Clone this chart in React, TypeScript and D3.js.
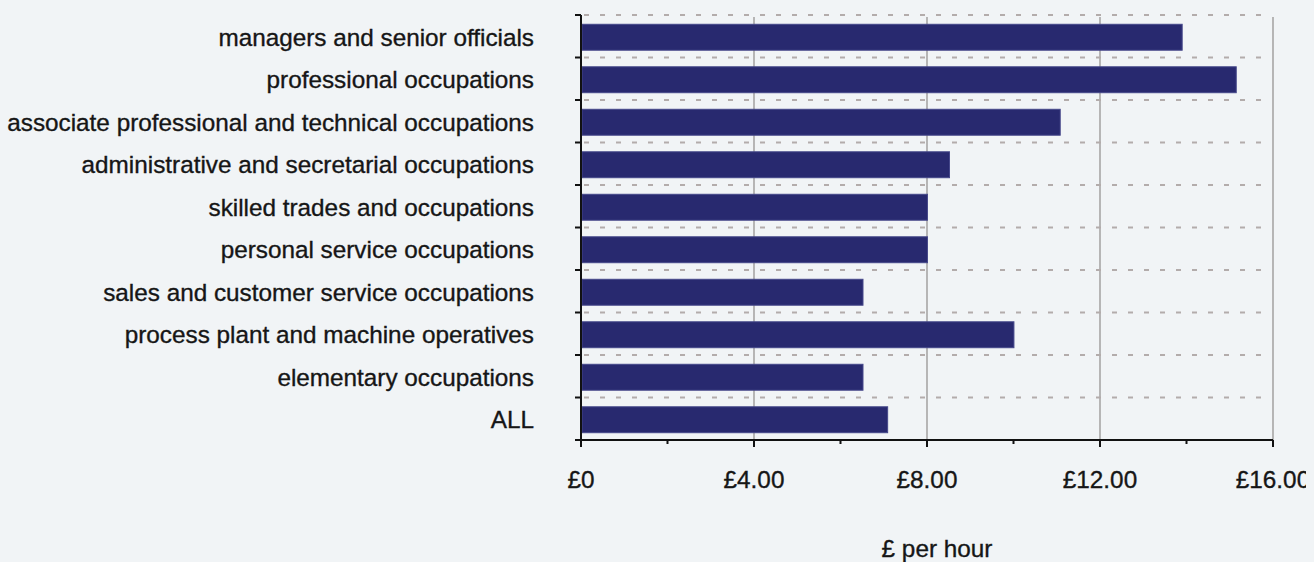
import React from "react";
import * as d3 from "d3";

const categories = [
  "managers and senior officials",
  "professional occupations",
  "associate professional and technical occupations",
  "administrative and secretarial occupations",
  "skilled trades and occupations",
  "personal service occupations",
  "sales and customer service occupations",
  "process plant and machine operatives",
  "elementary occupations",
  "ALL",
];
const values = [13.9, 15.15, 11.08, 8.52, 8.01, 8.01, 6.52, 10.01, 6.52, 7.09];
const majorTicks = [0, 4, 8, 12, 16];
const tickLabels = ["£0", "£4.00", "£8.00", "£12.00", "£16.00"];
const minorTicks = [2, 6, 10, 14];
const axisTitle = "£ per hour";

const W = 1314;
const H = 562;
const FONT = "'Liberation Sans', Arial, Helvetica, sans-serif";

export default function App() {
  const x = d3.scaleLinear().domain([0, 16]).range([581, 1273]);
  const y = d3.scaleBand<string>().domain(categories).range([15, 440]).paddingInner(0).paddingOuter(0);
  const bw = y.bandwidth();
  const barH = bw * 0.61;
  const [x0, x1] = x.range();
  const [y0, y1] = y.range();
  const textProps = { fontSize: 24.3, fill: "#161616", stroke: "#161616", strokeWidth: 0.35 };

  return (
    <svg
      width={W}
      height={H}
      style={{ position: "absolute", left: 0, top: 0, background: "#f1f4f6", display: "block" }}
      fontFamily={FONT}
    >
      <defs>
        <clipPath id="edgeClip">
          <rect x={0} y={0} width={1306} height={H} />
        </clipPath>
      </defs>
      <rect x={0} y={0} width={W} height={H} fill="#f1f4f6" />
      {/* vertical gridlines */}
      {majorTicks.filter((t) => t > 0).map((t) => (
        <line key={"vg" + t} x1={x(t)} x2={x(t)} y1={y0 + 2} y2={y1} stroke="#a8a6a6" strokeWidth={1.6} />
      ))}
      {/* horizontal dashed gridlines */}
      {categories.map((c) => (
        <line
          key={"hg" + c}
          x1={x0 + 3}
          x2={x1 - 6}
          y1={y(c)!}
          y2={y(c)!}
          stroke="#b3acab"
          strokeWidth={2}
          strokeDasharray="5,11"
        />
      ))}
      {/* bars */}
      {categories.map((c, i) => (
        <rect
          key={"b" + c}
          x={x(0) + 1}
          y={y(c)! + (bw - barH) / 2 + 1}
          width={x(values[i]) - x(0) - 1}
          height={barH}
          fill="#28296f"
          stroke="#45478a"
          strokeWidth={1}
        />
      ))}
      {/* y axis */}
      <line x1={x0} x2={x0} y1={y0} y2={y1} stroke="#111" strokeWidth={2} />
      {categories.map((c) => (
        <line key={"yt" + c} x1={x0 - 6} x2={x0} y1={y(c)!} y2={y(c)!} stroke="#111" strokeWidth={2} />
      ))}
      <line x1={x0 - 6} x2={x0} y1={y1} y2={y1} stroke="#111" strokeWidth={2} />
      {/* x axis */}
      <line x1={x0} x2={x1} y1={y1} y2={y1} stroke="#111" strokeWidth={2} />
      {majorTicks.map((t) => (
        <line key={"xt" + t} x1={x(t)} x2={x(t)} y1={y1} y2={y1 + 7} stroke="#111" strokeWidth={2} />
      ))}
      {minorTicks.map((t) => (
        <line key={"xm" + t} x1={x(t)} x2={x(t)} y1={y1} y2={y1 + 4} stroke="#111" strokeWidth={2} />
      ))}
      {/* category labels */}
      {categories.map((c) => (
        <text key={"l" + c} x={534} y={y(c)! + bw / 2 + 9.5} textAnchor="end" {...textProps}>
          {c}
        </text>
      ))}
      {/* tick labels */}
      <g clipPath="url(#edgeClip)">
        {majorTicks.map((t, i) => (
          <text key={"tl" + t} x={x(t)} y={488} textAnchor="middle" {...textProps}>
            {tickLabels[i]}
          </text>
        ))}
      </g>
      <text x={937} y={557} textAnchor="middle" {...textProps}>
        {axisTitle}
      </text>
    </svg>
  );
}
